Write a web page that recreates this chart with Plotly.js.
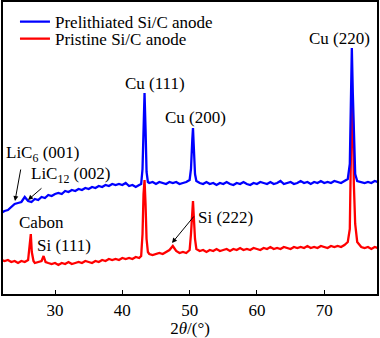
<!DOCTYPE html>
<html>
<head>
<meta charset="utf-8">
<script src="https://cdn.plot.ly/plotly-3.0.1.min.js"></script>
<style>html,body{margin:0;padding:0;background:#fff;}#chart{width:380px;height:338px;}</style>
</head>
<body>
<div id="chart"></div>
<script>
// 2-theta (degrees) and intensities (arbitrary units)
var blueX = [22.0,22.5,23.0,23.5,24.0,24.5,25.0,25.5,26.0,26.5,27.0,27.5,28.0,28.5,29.0,29.5,30.0,30.5,31.0,31.5,32.0,32.5,33.0,33.5,34.0,34.5,35.0,35.5,36.0,36.5,37.0,37.5,38.0,38.5,39.0,39.5,40.0,40.5,41.0,41.5,42.0,42.5,42.8,43.0,43.15,43.3,43.45,43.6,43.8,44.0,44.5,45.0,45.5,46.0,46.5,47.0,47.5,48.0,48.5,49.0,49.5,50.0,50.2,50.4,50.5,50.6,50.8,51.0,51.5,52.0,52.5,53.0,53.5,54.0,54.5,55.0,55.5,56.0,56.5,57.0,57.5,58.0,58.5,59.0,59.5,60.0,60.5,61.0,61.5,62.0,62.5,63.0,63.5,64.0,64.5,65.0,65.5,66.0,66.5,67.0,67.5,68.0,68.5,69.0,69.5,70.0,70.5,71.0,71.5,72.0,72.5,73.0,73.5,73.8,74.0,74.1,74.25,74.4,74.6,74.9,75.5,76.0,76.5,77.0,77.5,78.0];
var blueY = [81,83,84,87,90,91,92,97,93,92,95,94,97,96,99,98,100,101,100,103,102,104,103,105,104,106,105,107,106,108,107,109,108,110,109,110,109,111,108,109,107,109,110,125,170,201,165,122,112,111,112,110,112,111,110,112,111,112,110,111,112,114,125,155,166,150,120,113,111,110,112,110,111,109,111,110,112,110,109,111,110,112,110,109,111,110,112,111,110,112,110,111,113,110,111,112,110,111,113,111,112,110,112,111,113,111,112,111,113,112,111,113,115,130,210,246,200,150,120,113,112,111,112,111,113,112];

var redX = [22.0,22.5,23.0,23.5,24.0,24.5,25.0,25.5,26.0,26.2,26.4,26.55,26.8,27.0,27.5,28.0,28.3,28.6,29.0,29.5,30.0,30.5,31.0,31.5,32.0,32.5,33.0,33.5,34.0,34.5,35.0,35.5,36.0,36.5,37.0,37.5,38.0,38.5,39.0,39.5,40.0,40.5,41.0,41.5,42.0,42.5,42.8,43.0,43.15,43.3,43.45,43.6,43.8,44.0,44.5,45.0,45.5,46.0,46.5,47.0,47.5,48.0,48.5,49.0,49.5,50.0,50.2,50.4,50.5,50.6,50.8,51.0,51.5,52.0,52.5,53.0,53.5,54.0,54.5,55.0,55.5,56.0,56.5,57.0,57.5,58.0,58.5,59.0,59.5,60.0,60.5,61.0,61.5,62.0,62.5,63.0,63.5,64.0,64.5,65.0,65.5,66.0,66.5,67.0,67.5,68.0,68.5,69.0,69.5,70.0,70.5,71.0,71.5,72.0,72.5,73.0,73.5,73.8,74.0,74.1,74.25,74.4,74.6,74.9,75.5,76.0,76.5,77.0,77.5,78.0];
var redY = [34,33,34,32,33,31,33,32,34,45,60,42,33,31,32,33,38,32,31,30,31,29,31,30,32,30,31,32,31,33,32,31,33,32,34,33,35,34,35,34,36,35,36,35,37,36,38,60,100,114,90,55,42,40,39,40,41,40,42,44,48,43,41,42,41,44,60,85,93,80,55,45,43,44,42,44,43,45,43,44,45,43,45,44,46,44,45,44,46,45,44,46,45,47,45,46,45,47,46,45,47,46,47,46,48,46,47,46,48,47,46,48,47,48,47,49,52,65,190,202,180,110,70,52,47,46,47,45,47,46];

var seriesNames = ['Pristine Si/C anode', 'Prelithiated Si/C anode'];
var xTicks = [30, 40, 50, 60, 70];

var serif = 'Liberation Serif, Times New Roman, serif';

var traces = [
  {x: redX, y: redY, type: 'scatter', mode: 'lines', name: seriesNames[0], legend: 'legend2',
   line: {color: '#ff0000', width: 2.3}},
  {x: blueX, y: blueY, type: 'scatter', mode: 'lines', name: seriesNames[1], legend: 'legend',
   line: {color: '#0000ff', width: 2.3}}
];

function lbl(t, x, y) {
  return {text: t, x: x, y: y, xref: 'x', yref: 'y', showarrow: false,
          xanchor: 'center', yanchor: 'middle', font: {family: serif, size: 17, color: '#000'}};
}
function arr(xh, yh, xt, yt) {
  return {text: '', x: xh, y: yh, ax: xt, ay: yt, xref: 'x', yref: 'y', axref: 'x', ayref: 'y',
          showarrow: true, arrowhead: 2, arrowsize: 1, arrowwidth: 1, arrowcolor: '#000'};
}
function leg(yc) {
  return {x: 0.032, y: yc, xanchor: 'left', yanchor: 'middle',
          bgcolor: 'rgba(0,0,0,0)', borderwidth: 0,
          font: {family: serif, size: 17, color: '#000'}};
}

var layout = {
  width: 380, height: 338,
  margin: {l: 3, r: 3, t: 2, b: 44},
  paper_bgcolor: '#fff', plot_bgcolor: '#fff',
  font: {family: serif, size: 17, color: '#000'},
  showlegend: true,
  legend: leg(0.931),
  legend2: leg(0.873),
  xaxis: {range: [22.27, 77.84], tickvals: xTicks, ticktext: xTicks.map(String),
          ticks: 'inside', ticklen: 4, tickwidth: 1, tickcolor: '#000',
          showline: true, linewidth: 2, linecolor: '#000', mirror: true,
          showgrid: false, zeroline: false,
          tickfont: {family: serif, size: 17, color: '#000'},
          title: {text: '2<i>θ</i>/(°)', font: {family: serif, size: 17, color: '#000'}, standoff: 6}},
  yaxis: {range: [0, 292], showticklabels: false, ticks: '', showgrid: false, zeroline: false,
          showline: true, linewidth: 2, linecolor: '#000', mirror: true},
  annotations: [
    lbl('Cu (111)', 44.86, 211),
    lbl('Cu (200)', 50.80, 177),
    lbl('Cu (220)', 72.34, 256),
    lbl('LiC<sub>6</sub> (001)', 28.21, 140),
    lbl('LiC<sub>12</sub> (002)', 32.37, 119),
    lbl('Cabon', 27.92, 72),
    lbl('Si (111)', 31.33, 49),
    lbl('Si (222)', 55.40, 77),
    arr(24.05, 93, 24.94, 126),
    arr(25.98, 94, 28.21, 107),
    arr(47.38, 51, 50.80, 79)
  ]
};

Plotly.newPlot('chart', traces, layout, {displayModeBar: false, staticPlot: true});
</script>
</body>
</html>
